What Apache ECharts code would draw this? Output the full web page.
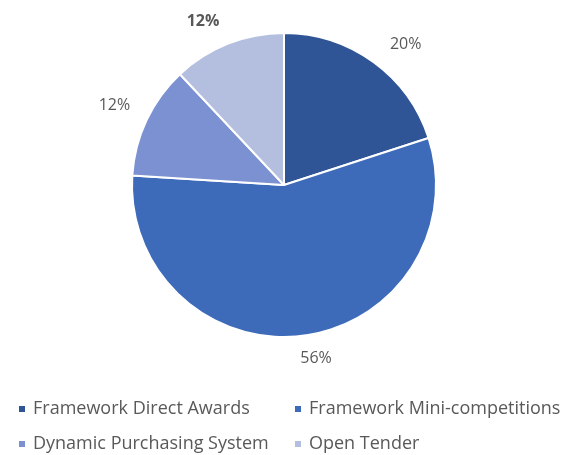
<!DOCTYPE html>
<html><head><meta charset="utf-8">
<script src="https://cdn.jsdelivr.net/npm/echarts@6/dist/echarts.min.js"></script>
<style>html,body{margin:0;padding:0;background:#fff}#c{width:571px;height:455px}</style>
</head><body><div id="c"></div>
<script>
const categories = ['Framework Direct Awards','Framework Mini-competitions','Dynamic Purchasing System','Open Tender'];
const values = [20, 56, 12, 12];
const colors = ['#2F5597','#3D6BBA','#7B91D1','#B4BFE0'];
const labelOffsets = [[1,-3],[-10,5],[5,-7],[3,-6]];
const FONT = '"Open Sans", Arial, sans-serif';
const chart = echarts.init(document.getElementById('c'));
const legendPos = [[12,395],[288,395],[12,430],[288,430]];
chart.setOption({
  animation:false,
  color: colors,
  legend: categories.map((n,i)=>({
    data:[n], left:legendPos[i][0], top:legendPos[i][1], itemWidth:8, itemHeight:8, itemGap:0,
    icon:'rect', selectedMode:false, padding:[5,5,5,5],
    textStyle:{color:'#595959', fontSize:18, fontFamily:FONT, padding:[0,0,0,2]}
  })),
  series:[{
    type:'pie', center:[284,185], radius:152, startAngle:90, clockwise:true,
    avoidLabelOverlap:false,
    itemStyle:{borderColor:'#fff', borderWidth:2},
    label:{show:true, position:'outside', formatter:'{d}%', color:'#595959', fontSize:16, fontFamily:FONT},
    labelLine:{show:false, length:18, length2:0},
    data: categories.map((n,i)=>({name:n, value:values[i],
      label: Object.assign({offset:labelOffsets[i]}, i===3 ? {fontWeight:'bold'} : {})}))
  }]
});
</script></body></html>
